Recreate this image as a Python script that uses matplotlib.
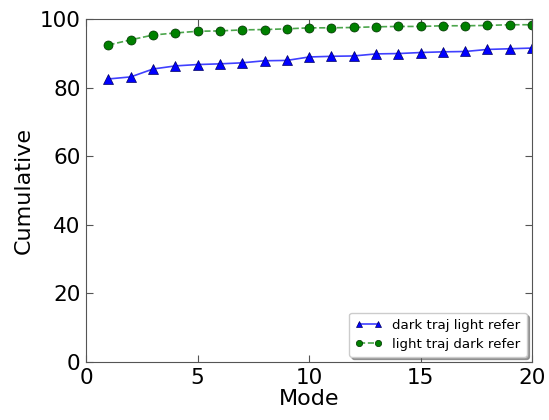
import matplotlib
matplotlib.use('Agg')
import matplotlib.pyplot as plt
import numpy as np

# cumulative percentage per mode
modes = np.arange(1, 21)
dark_traj_light_refer = [82.5, 83.1, 85.4, 86.3, 86.7, 86.9, 87.2, 87.8, 87.9, 88.9,
                         89.1, 89.2, 89.8, 89.9, 90.2, 90.4, 90.5, 91.1, 91.3, 91.5]
light_traj_dark_refer = [92.4, 93.9, 95.3, 95.9, 96.4, 96.5, 96.8, 96.9, 97.1, 97.4,
                         97.4, 97.5, 97.7, 97.8, 97.8, 98.0, 98.0, 98.1, 98.3, 98.3]

plt.rcParams['xtick.direction'] = 'in'
plt.rcParams['ytick.direction'] = 'in'
plt.rcParams['xtick.top'] = True
plt.rcParams['ytick.right'] = True

fig = plt.figure(figsize=(5.49, 4.2), dpi=100)
ax = fig.add_axes([0.157, 0.138, 0.812, 0.817])

ax.plot(modes, dark_traj_light_refer, '-^', color=(0, 0, 1, 0.75), lw=1.2,
        mfc='b', mec='#000060', mew=0.5, ms=6.5, label='dark traj light refer')
ax.plot(modes, light_traj_dark_refer, '--o', color=(0, 0.5, 0, 0.7), lw=1.2,
        mfc='g', mec='#003000', mew=0.5, ms=6.5, label='light traj dark refer')

ax.set_xlim(0, 20)
ax.set_ylim(0, 100)
ax.set_xticks([0, 5, 10, 15, 20])
ax.set_yticks([0, 20, 40, 60, 80, 100])
ax.tick_params(labelsize=15.5, length=5, color='#555555', pad=4)
for s in ax.spines.values():
    s.set_color('#555555')
ax.set_xlabel('Mode', fontsize=16, labelpad=1)
ax.set_ylabel('Cumulative', fontsize=16)
ax.legend(loc='lower right', fontsize=9.6, fancybox=True, shadow=True,
          numpoints=2, markerscale=0.7, handlelength=2.0, borderpad=0.45,
          labelspacing=0.45, framealpha=1, borderaxespad=0.4)

plt.savefig('out.png', dpi=100)
plt.close()
